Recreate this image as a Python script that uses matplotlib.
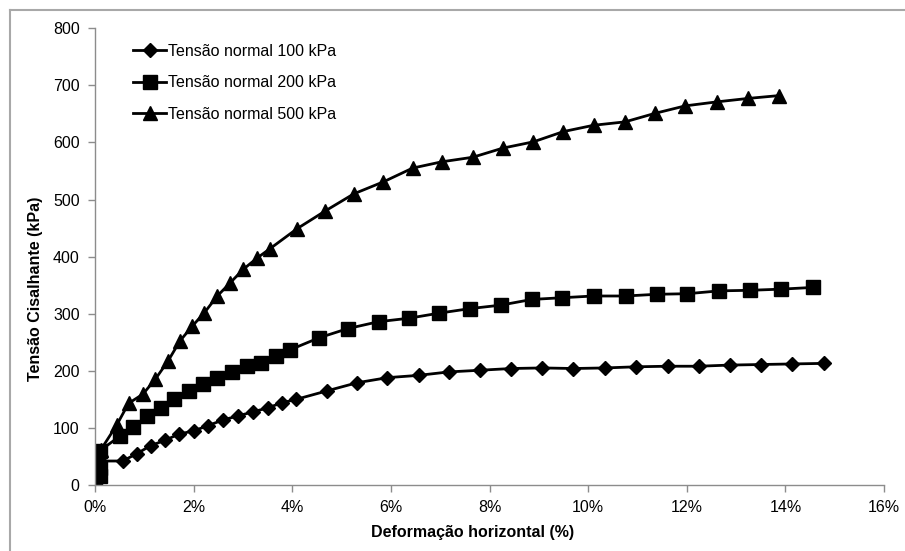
import matplotlib
matplotlib.use("Agg")
import matplotlib.pyplot as plt
from matplotlib.lines import Line2D
from matplotlib.ticker import FuncFormatter, MultipleLocator

plt.rcParams['font.family'] = ['Liberation Sans', 'DejaVu Sans']

# Horizontal strain (%) and shear stress (kPa) for each normal stress
x_100 = [0.10, 0.56, 0.85, 1.13, 1.41, 1.70, 2.01, 2.29, 2.60, 2.90, 3.20, 3.50,
         3.79, 4.08, 4.71, 5.31, 5.93, 6.56, 7.17, 7.81, 8.44, 9.07, 9.70,
         10.34, 10.97, 11.61, 12.24, 12.87, 13.50, 14.14, 14.79]
y_100 = [42, 42, 55, 69, 78, 89, 95, 104, 114, 121, 128, 135,
         144, 150, 165, 179, 188, 192, 198, 201, 204, 205, 204,
         205, 207, 208, 208, 210, 211, 212, 213]

x_200 = [0.00, 0.10, 0.10, 0.10, 0.51, 0.78, 1.05, 1.34, 1.61, 1.91, 2.19, 2.47,
         2.77, 3.08, 3.36, 3.67, 3.96, 4.55, 5.13, 5.75, 6.36, 6.98, 7.61,
         8.23, 8.86, 9.48, 10.11, 10.76, 11.39, 12.01, 12.66, 13.29, 13.91, 14.56]
y_200 = [0, 15, 29, 60, 86, 102, 120, 135, 150, 164, 177, 188,
         198, 208, 214, 226, 237, 258, 274, 286, 292, 301, 309,
         315, 325, 328, 331, 331, 334, 335, 340, 341, 343, 346]

x_500 = [0.12, 0.44, 0.68, 0.97, 1.22, 1.48, 1.72, 1.97, 2.22, 2.48, 2.74, 3.01,
         3.28, 3.55, 4.10, 4.67, 5.25, 5.85, 6.44, 7.03, 7.66, 8.27, 8.89,
         9.50, 10.11, 10.75, 11.36, 11.97, 12.61, 13.24, 13.87]
y_500 = [62, 105, 143, 159, 185, 217, 252, 278, 302, 331, 354, 378,
         397, 414, 449, 480, 510, 531, 555, 566, 574, 590, 601,
         619, 630, 636, 651, 664, 671, 677, 682]

labels = ['Tensão normal 100 kPa', 'Tensão normal 200 kPa', 'Tensão normal 500 kPa']

fig = plt.figure(figsize=(9.05, 5.51), dpi=100)
ax = fig.add_axes([0.105, 0.1198, 0.8718, 0.829])

line_kw = dict(color='black', linewidth=2.0, markeredgecolor='black',
               markerfacecolor='black')
ax.plot(x_100, y_100, marker='D', markersize=7.5, label=labels[0], **line_kw)
ax.plot(x_200, y_200, marker='s', markersize=9.5, label=labels[1], **line_kw)
ax.plot(x_500, y_500, marker='^', markersize=9.5, label=labels[2], **line_kw)

ax.set_xlim(0, 16)
ax.set_ylim(0, 800)
ax.xaxis.set_major_locator(MultipleLocator(2))
ax.yaxis.set_major_locator(MultipleLocator(100))
ax.xaxis.set_major_formatter(FuncFormatter(lambda v, p: f"{v:.0f}%"))

for side in ('top', 'right'):
    ax.spines[side].set_visible(False)
for side in ('left', 'bottom'):
    ax.spines[side].set_color('#8c8c8c')
    ax.spines[side].set_linewidth(1.0)
ax.tick_params(axis='both', direction='out', length=5, width=1.0,
               color='#8c8c8c', labelsize=11.5, labelcolor='black')
ax.tick_params(axis='x', pad=6)
ax.tick_params(axis='y', pad=6)

ax.set_xlabel('Deformação horizontal (%)', fontsize=11.5, fontweight='bold')
ax.set_ylabel('Tensão Cisalhante (kPa)', fontsize=11.5, fontweight='bold')
ax.xaxis.set_label_coords(0.478, -0.0875)
ax.yaxis.set_label_coords(-0.066, 0.429)

leg = ax.legend(loc='upper left', bbox_to_anchor=(0.048, 0.966), frameon=False,
                fontsize=11.5, handlelength=2.1, handletextpad=0.1,
                labelspacing=1.03, borderaxespad=0, borderpad=0)

# Outer chart frame (top and left edges)
fig.add_artist(Line2D([10 / 905, 10 / 905], [0, 1 - 10 / 551],
                      transform=fig.transFigure, color='#a8a8a8', linewidth=1.5))
fig.add_artist(Line2D([10 / 905, 1], [1 - 10 / 551, 1 - 10 / 551],
                      transform=fig.transFigure, color='#a8a8a8', linewidth=1.5))

fig.savefig('out.png', dpi=100)
